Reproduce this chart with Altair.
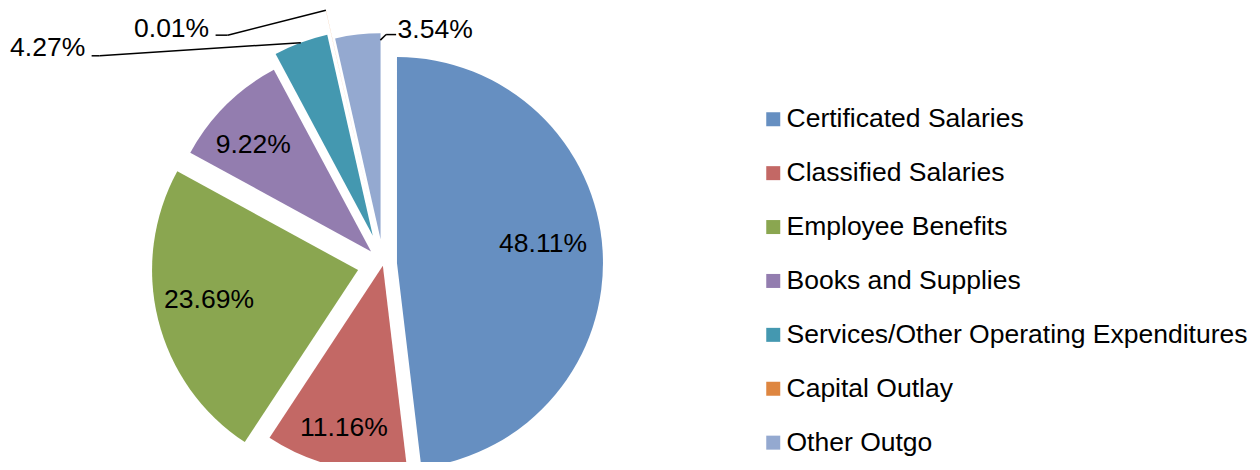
import math
import altair as alt
import pandas as pd

# ---- data ----
categories = [
    "Certificated Salaries",
    "Classified Salaries",
    "Employee Benefits",
    "Books and Supplies",
    "Services/Other Operating Expenditures",
    "Capital Outlay",
    "Other Outgo",
]
values = [48.11, 11.16, 23.69, 9.22, 4.27, 0.01, 3.54]
labels = ["48.11%", "11.16%", "23.69%", "9.22%", "4.27%", "0.01%", "3.54%"]

# ---- styles (kept separate from the data) ----
colors = ["#668FC1", "#C36865", "#8AA650", "#937DAF", "#4498B0", "#DE8640", "#94A9D0"]
explode_px = [13.7, 2.0, 26.0, 17.4, 30.0, 54.0, 24.6]          # per-slice explosion
label_angle_deg = [83.1, 193.5, 258.3, 312.4, 302.7, 318.0, 12.5]  # label placement (polar)
label_radius_px = [160.9, 168.8, 178.0, 176.1, 398.9, 316.4, 239.4]
leader_frac = [None, None, None, None, 0.5, 0.5, 0.995]   # where the leader touches the slice
leader_rfrac = [None, None, None, None, 1.0, 1.0, 0.967]
leader_end_dx = [None, None, None, None, 44.0, 44.0, -39.0]
leader_end_dy = [None, None, None, None, 7.5, 6.5, 4.5]
leader_elbow_dx = [None, None, None, None, 52.0, 56.0, -49.0]

W, H = 1244, 454
CX, CY = 375.3, 255.8   # pie centre inside the plot area
R = 206
FONT = "Liberation Sans"
FS = 26.5

df = pd.DataFrame({
    "idx": list(range(len(categories))),
    "category": categories,
    "value": values,
    "label": labels,
    "explode": explode_px,
    "la": label_angle_deg,
    "lr": label_radius_px,
    "lf": leader_frac,
    "lrf": leader_rfrac,
    "edx": leader_end_dx,
    "edy": leader_end_dy,
    "bdx": leader_elbow_dx,
})

xs = alt.Scale(domain=[-CX, W - CX], nice=False, zero=False)
ys = alt.Scale(domain=[-(H - CY), CY], nice=False, zero=False)
ts = alt.Scale(domain=[0, 1], range=[0, 2 * math.pi])

base = alt.Chart(df).transform_window(
    cum="sum(value)", sort=[alt.SortField("idx")], frame=[None, 0]
).transform_joinaggregate(
    total="sum(value)"
).transform_calculate(
    t0="(datum.cum - datum.value) / datum.total",
    t1="datum.cum / datum.total",
).transform_calculate(
    mid="(datum.t0 + datum.t1) * PI",
).transform_calculate(
    ox="datum.explode * sin(datum.mid)",
    oy="datum.explode * cos(datum.mid)",
    lx="datum.lr * sin(datum.la * PI / 180)",
    ly="datum.lr * cos(datum.la * PI / 180)",
)

arcs = base.mark_arc(outerRadius=R, strokeWidth=0).encode(
    theta=alt.Theta("t0:Q", stack=None, scale=ts),
    theta2=alt.Theta2("t1:Q"),
    x=alt.X("ox:Q", scale=xs, axis=None),
    y=alt.Y("oy:Q", scale=ys, axis=None),
    color=alt.Color(
        "category:N",
        scale=alt.Scale(domain=categories, range=colors),
        sort=categories,
        legend=alt.Legend(
            title=None,
            orient="none",
            legendX=752,
            legendY=98,
            symbolType="square",
            symbolSize=196,
            symbolStrokeWidth=0,
            labelFont=FONT,
            labelFontSize=FS,
            labelColor="#000000",
            labelLimit=700,
            labelOffset=0,
            rowPadding=26.9,
        ),
    ),
)

lead = base.transform_filter("isValid(datum.lf)").transform_calculate(
    ang="(datum.t0 + datum.lf * (datum.t1 - datum.t0)) * 2 * PI",
).transform_calculate(
    px="datum.ox + %f * datum.lrf * sin(datum.ang)" % R,
    py="datum.oy + %f * datum.lrf * cos(datum.ang)" % R,
    ex="datum.lx + datum.edx",
    bx="datum.lx + datum.bdx",
    ey="datum.ly - datum.edy",
)

lead1 = lead.mark_rule(color="#000000", strokeWidth=1.5).encode(
    x=alt.X("px:Q", scale=xs, axis=None),
    y=alt.Y("py:Q", scale=ys, axis=None),
    x2="bx:Q",
    y2="ey:Q",
)
lead2 = lead.mark_rule(color="#000000", strokeWidth=1.5).encode(
    x=alt.X("bx:Q", scale=xs, axis=None),
    y=alt.Y("ey:Q", scale=ys, axis=None),
    x2="ex:Q",
    y2="ey:Q",
)

text = base.mark_text(
    font=FONT, fontSize=FS, color="#000000", align="center", baseline="middle"
).encode(
    x=alt.X("lx:Q", scale=xs, axis=None),
    y=alt.Y("ly:Q", scale=ys, axis=None),
    text="label:N",
)

chart = alt.layer(arcs, lead1, lead2, text).properties(
    width=W,
    height=H,
    padding=0,
    autosize=alt.AutoSizeParams(type="none"),
).configure_view(stroke=None)

chart.save("out.html", embed_options={"renderer": "svg", "actions": False})
